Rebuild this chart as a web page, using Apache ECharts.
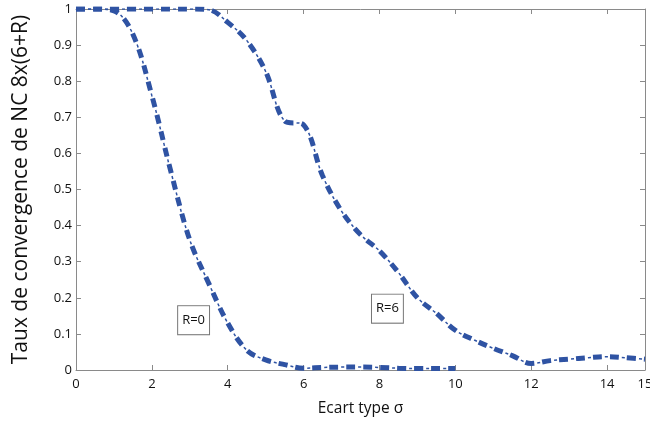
<!DOCTYPE html>
<html><head><meta charset="utf-8">
<script src="https://cdn.jsdelivr.net/npm/echarts@6/dist/echarts.min.js"></script>
<style>html,body{margin:0;padding:0;background:#fff}#c{width:650px;height:425px}</style>
</head><body><div id="c"></div>
<script>
const sigma0 = [0,0.5,1,1.5,2,2.5,3,3.5,4,4.5,5,5.5,6,6.5,7,7.5,8,8.5,9,9.5,10];
const rate0  = [1,1,0.995,0.93,0.76,0.55,0.36,0.24,0.13,0.055,0.028,0.015,0.005,0.007,0.008,0.008,0.007,0.005,0.004,0.004,0.004];
const sigma6 = [0,0.5,1,1.5,2,2.5,3,3.5,4,4.5,5,5.5,6,6.5,7,7.5,8,8.5,9,9.5,10,10.5,11,11.5,12,12.5,13,13.5,14,14.5,15];
const rate6  = [1,1,1,1,1,1,1,0.998,0.963,0.913,0.827,0.69,0.679,0.538,0.44,0.375,0.33,0.27,0.2,0.157,0.11,0.083,0.06,0.04,0.018,0.026,0.03,0.034,0.037,0.034,0.03];
const labels = [{text:'R=0', at:[3.1,0.138], series:0},{text:'R=6', at:[8.21,0.17], series:1}];
const xTitle = 'Ecart type σ';
const yTitle = 'Taux de convergence de NC 8x(6+R)';

const blue = '#2f53a3';
const axisGrey = '#8a8a8a';
const font = 'Open Sans';
function pairs(xs, ys){ return xs.map((x,i)=>[x, ys[i]]); }
function mk(i){
  const l = labels.find(o=>o.series===i);
  return {symbol:'rect', symbolSize:0, silent:true,
    data:[{coord:l.at, value:l.text}],
    label:{show:true, position:'inside', formatter:l.text, color:'#111', fontFamily:font, fontSize:13,
      backgroundColor:'#fff', borderColor:'#777', borderWidth:1, padding:[8,4,7,4]}};
}
const sets = [pairs(sigma0, rate0), pairs(sigma6, rate6)];
const series = [];
sets.forEach((d,i)=>{
  series.push({type:'line', data:d, smooth:0.35, symbol:'none', z:3,
    lineStyle:{color:blue, width:5, type:[9,8], dashOffset:0, cap:'butt'},
    markPoint: mk(i)});
  series.push({type:'line', data:d, smooth:0.35, symbol:'none', z:3,
    lineStyle:{color:blue, width:1.5, type:[3,14], dashOffset:5, cap:'butt'}});
});
const axisCommon = {axisLine:{show:true, onZero:false, lineStyle:{color:axisGrey, width:1}},
  axisTick:{show:true, inside:true, length:5, lineStyle:{color:axisGrey}}, splitLine:{show:false}};
const chart = echarts.init(document.getElementById('c'), null, {renderer:'canvas'});
chart.setOption({
  animation:false,
  grid:{left:76, right:5, top:9, bottom:55, containLabel:false, outerBoundsMode:'none'},
  xAxis:[
    Object.assign({type:'value', min:0, max:15, interval:2, position:'bottom',
      name:xTitle, nameLocation:'middle', nameGap:31,
      nameTextStyle:{color:'#111', fontFamily:font, fontSize:15.5},
      axisLabel:{color:'#111', fontFamily:font, fontSize:13, margin:8,
        showMaxLabel:true, formatter:v=>String(v)}}, axisCommon),
    Object.assign({type:'value', min:0, max:15, interval:2, position:'top', axisLabel:{show:false}}, axisCommon)
  ],
  yAxis:[
    Object.assign({type:'value', min:0, max:1, interval:0.1, position:'left',
      name:yTitle, nameLocation:'middle', nameGap:44,
      nameTextStyle:{color:'#111', fontFamily:font, fontSize:21},
      axisLabel:{color:'#111', fontFamily:font, fontSize:13, margin:4,
        formatter:v=>String(Math.round(v*10)/10)}}, axisCommon),
    Object.assign({type:'value', min:0, max:1, interval:0.1, position:'right', axisLabel:{show:false}}, axisCommon)
  ],
  series: series
});
</script></body></html>
